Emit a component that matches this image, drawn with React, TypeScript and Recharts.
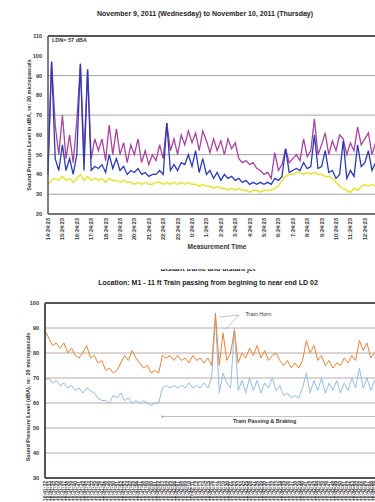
import { CartesianGrid, Line, LineChart, ReferenceDot, ReferenceLine, XAxis, YAxis } from "recharts";

// top chart: 15-minute samples, Nov 9 -> Nov 10
const topHours = [
  "14:24:23", "15:24:23", "16:24:23", "17:24:23", "18:24:23", "19:24:23",
  "20:24:23", "21:24:23", "22:24:23", "23:24:23", "0:24:23", "1:24:23",
  "2:24:23", "3:24:23", "4:24:23", "5:24:23", "6:24:23", "7:24:23",
  "8:24:23", "9:24:23", "10:24:23", "11:24:23", "12:24:23", "13:24:23",
];
const lmaxLevels = [
  45, 97, 65, 50, 70, 48, 60, 46, 67, 96, 50, 93, 48, 58, 52, 58, 47, 65, 50, 63,
  50, 56, 46, 55, 50, 58, 46, 52, 45, 50, 47, 55, 48, 66, 52, 58, 50, 60, 55, 62,
  56, 61, 52, 62, 57, 51, 58, 52, 57, 50, 58, 53, 56, 48, 46, 47, 45, 46, 43, 42,
  40, 41, 38, 51, 42, 45, 53, 46, 48, 50, 47, 58, 49, 52, 68, 50, 55, 61, 50, 57,
  52, 60, 58, 50, 56, 52, 64, 55, 58, 61, 50, 56, 52, 58, 50, 55,
];
const leqLevels = [
  40, 97, 48, 42, 55, 42, 48, 40, 50, 96, 42, 93, 42, 44, 43, 45, 41, 50, 43, 48,
  42, 44, 40, 42, 41, 43, 40, 41, 39, 40, 40, 42, 40, 66, 42, 45, 42, 46, 45, 50,
  44, 52, 41, 48, 40, 42, 38, 41, 37, 40, 38, 39, 37, 38, 36, 37, 35, 36, 35, 36,
  35, 36, 35, 38, 37, 39, 53, 41, 42, 43, 42, 46, 43, 44, 60, 43, 44, 52, 41, 42,
  38, 40, 57, 38, 42, 39, 55, 44, 46, 52, 42, 46, 43, 48, 42, 45,
];
const l90Levels = [
  35, 37, 38, 37, 39, 37, 38, 36, 38, 40, 37, 39, 37, 38, 37, 38, 36, 38, 37, 37,
  36, 37, 36, 36, 35, 36, 35, 36, 35, 35, 36, 36, 35, 36, 35, 36, 35, 36, 35, 36,
  35, 35, 34, 35, 34, 34, 33, 34, 33, 33, 32, 33, 32, 33, 32, 32, 31, 32, 32, 31,
  32, 32, 32, 33, 34, 37, 39, 40, 40, 41, 41, 40, 41, 40, 41, 40, 40, 39, 39, 38,
  36, 34, 33, 32, 31, 33, 32, 34, 35, 34, 35, 34, 35, 36, 35, 36,
];

// bottom chart: one sample per second during the train pass
const passStart = 10 * 3600 + 41 * 60 + 32;
const passLevels = [
  89, 86, 83, 84, 82, 84, 80, 82, 79, 78, 80, 83, 78, 79, 76, 77, 73, 74, 72, 73,
  76, 79, 77, 81, 78, 76, 74, 75, 72, 73, 72, 79, 78, 79, 77, 79, 77, 78, 76, 79,
  77, 78, 76, 78, 75, 96, 75, 88, 77, 80, 89, 76, 80, 78, 82, 79, 83, 78, 81, 77,
  79, 80, 77, 75, 77, 74, 76, 74, 77, 85, 80, 83, 77, 79, 75, 77, 74, 76, 75, 78,
  76, 79, 77, 85, 81, 84, 78, 80, 77, 79, 76, 80, 78, 77, 81, 76, 79, 78, 80, 77,
];
const passL90Levels = [
  69, 70, 68, 69, 67, 68, 66, 67, 65, 66, 64, 66, 65, 64, 62, 61, 61, 60, 63, 62,
  64, 61, 62, 60, 61, 60, 61, 60, 59, 60, 60, 66, 67, 66, 67, 66, 67, 66, 68, 66,
  67, 66, 68, 66, 70, 94, 64, 72, 68, 66, 90, 65, 69, 64, 70, 65, 69, 64, 68, 66,
  70, 65, 67, 63, 64, 62, 63, 62, 66, 72, 64, 69, 65, 70, 64, 68, 65, 69, 64, 68,
  65, 70, 66, 74, 66, 70, 65, 69, 66, 68, 65, 69, 66, 68, 64, 67, 66, 69, 65, 68,
];

const pad = (n: number) => String(n).padStart(2, "0");
const clock = (s: number) => `${Math.floor(s / 3600)}:${pad(Math.floor(s / 60) % 60)}:${pad(s % 60)}`;
const passTimes = passLevels.map((_, i) => clock(passStart + i));

const topData = lmaxLevels.map((v, i) => ({ i, lmax: v, leq: leqLevels[i], l90: l90Levels[i] }));
const topTicks = topHours.map((_, k) => k * 4);
const bottomData = passLevels.map((v, i) => ({ i, a: v, b: passL90Levels[i] }));
const bottomTicks = passLevels.map((_, i) => i);

const FONT = "'Liberation Sans', Arial, sans-serif";

function VTick({ x, y, payload, fmt, size }: any) {
  return (
    <text
      x={x}
      y={y}
      dy="0.35em"
      transform={`rotate(-90 ${x} ${y})`}
      textAnchor="end"
      fontSize={size}
      fontWeight="bold"
      fill="#333"
      fontFamily={FONT}
    >
      {fmt(payload.value)}
    </text>
  );
}

function VLabel({ text, cx, cy }: { text: string; cx: number; cy: number }) {
  return (
    <div
      style={{
        position: "absolute",
        left: cx - 100,
        top: cy - 4,
        width: 200,
        height: 8,
        lineHeight: "8px",
        textAlign: "center",
        fontSize: 5.5,
        fontWeight: "bold",
        color: "#333",
        transform: "rotate(-90deg)",
        whiteSpace: "nowrap",
      }}
    >
      {text}
    </div>
  );
}

const yTick = { fontSize: 5.5, fontWeight: "bold", fill: "#333", fontFamily: FONT } as const;

export default function App() {
  return (
    <div
      style={{
        position: "absolute",
        left: 0,
        top: 0,
        width: 375,
        height: 502,
        overflow: "hidden",
        background: "#fff",
        fontFamily: FONT,
      }}
    >
      <div style={{ position: "absolute", left: 0, top: 10, width: 410, textAlign: "center", fontSize: 7, fontWeight: "bold", color: "#222" }}>
        November 9, 2011 (Wednesday) to November 10, 2011 (Thursday)
      </div>

      <div style={{ position: "absolute", left: 0, top: 0 }}>
        <LineChart width={410} height={250} data={topData} margin={{ top: 36, right: 20, bottom: 0, left: 0 }}>
          <CartesianGrid vertical={false} stroke="#8c8c8c" strokeWidth={0.8} />
          <XAxis
            dataKey="i"
            type="number"
            domain={[0, 95]}
            ticks={topTicks}
            interval={0}
            height={36}
            tickSize={2}
            tickMargin={2}
            axisLine={{ stroke: "#555", strokeWidth: 1.5 }}
            tickLine={false}
            tick={<VTick size={5.5} fmt={(v: number) => topHours[v / 4]} />}
          />
          <YAxis
            domain={[20, 110]}
            ticks={[20, 30, 40, 50, 60, 70, 80, 90, 100, 110]}
            width={48}
            tickSize={4}
            tickMargin={2}
            axisLine={{ stroke: "#555", strokeWidth: 1.5 }}
            tickLine={false}
            tick={yTick}
          />
          <ReferenceLine y={110} stroke="#555" strokeWidth={2} />
          <Line dataKey="l90" stroke="#e4e43a" strokeWidth={1.5} dot={false} isAnimationActive={false} />
          <Line dataKey="lmax" stroke="#a8449e" strokeWidth={1.3} dot={false} isAnimationActive={false} />
          <Line dataKey="leq" stroke="#2a3bb4" strokeWidth={1.3} dot={false} isAnimationActive={false} />
        </LineChart>
      </div>

      <div style={{ position: "absolute", left: 52, top: 37, fontSize: 5.5, fontWeight: "bold", color: "#333" }}>LDN= 57 dBA</div>
      <VLabel text="Sound Pressure Level in dBA, re: 20 micropascals" cx={29} cy={125} />
      <div style={{ position: "absolute", left: 117, top: 243, width: 200, textAlign: "center", fontSize: 6.5, fontWeight: "bold", color: "#333" }}>
        Measurement Time
      </div>

      <div style={{ position: "absolute", left: 0, top: 269, width: 416, height: 10, overflow: "hidden" }}>
        <div style={{ position: "absolute", left: 0, top: -4, width: 416, textAlign: "center", fontSize: 7, fontWeight: "bold", color: "#222" }}>
          Distant traffic and distant jet
        </div>
      </div>
      <div style={{ position: "absolute", left: 0, top: 279, width: 416, textAlign: "center", fontSize: 7, fontWeight: "bold", color: "#222" }}>
        Location: M1 - 11 ft Train passing from begining to near end LD 02
      </div>

      <div style={{ position: "absolute", left: 0, top: 290 }}>
        <LineChart width={440} height={240} data={bottomData} margin={{ top: 13, right: 20, bottom: 0, left: 0 }}>
          <CartesianGrid vertical={false} stroke="#a8968f" strokeWidth={0.8} />
          <XAxis
            dataKey="i"
            type="number"
            domain={[0, 99]}
            ticks={bottomTicks}
            interval={0}
            height={52}
            tickSize={2}
            tickMargin={1}
            axisLine={{ stroke: "#555", strokeWidth: 2 }}
            tickLine={false}
            tick={<VTick size={5} fmt={(v: number) => passTimes[v]} />}
          />
          <YAxis
            domain={[30, 100]}
            ticks={[30, 40, 50, 60, 70, 80, 90, 100]}
            width={45}
            tickSize={4}
            tickMargin={2}
            axisLine={{ stroke: "#555", strokeWidth: 2 }}
            tickLine={false}
            tick={yTick}
          />
          <ReferenceLine y={100} stroke="#555" strokeWidth={2} />
          <Line dataKey="b" stroke="#93bde2" strokeWidth={1} dot={false} isAnimationActive={false} />
          <Line dataKey="a" stroke="#e8843a" strokeWidth={1} dot={false} isAnimationActive={false} />
          <ReferenceLine segment={[{ x: 51.2, y: 95.2 }, { x: 46, y: 94.4 }]} stroke="#8aa0b8" strokeWidth={0.6} />
          <ReferenceLine segment={[{ x: 51.2, y: 95.2 }, { x: 47.6, y: 89.4 }]} stroke="#8aa0b8" strokeWidth={0.6} />
          <ReferenceDot
            x={51.6}
            y={95.6}
            r={0}
            ifOverflow="visible"
            label={{ value: "Train Horn", position: "right", fontSize: 5.5, fill: "#333", fontFamily: FONT }}
          />
          <ReferenceLine segment={[{ x: 31, y: 54.6 }, { x: 89, y: 54.6 }]} stroke="#b4b4b4" strokeWidth={0.8} />
          <ReferenceDot x={31} y={54.6} r={1} fill="#999" stroke="none" />
          <ReferenceDot x={89} y={54.6} r={1} fill="#6aa0c8" stroke="none" />
          <ReferenceDot
            x={58}
            y={52.6}
            r={0}
            ifOverflow="visible"
            label={{ value: "Train Passing & Braking", position: "center", fontSize: 5.5, fontWeight: "bold", fill: "#333", fontFamily: FONT }}
          />
        </LineChart>
      </div>
      <VLabel text="Sound Pressure Level (dBA), re: 20 micropascals" cx={28} cy={397} />
    </div>
  );
}
